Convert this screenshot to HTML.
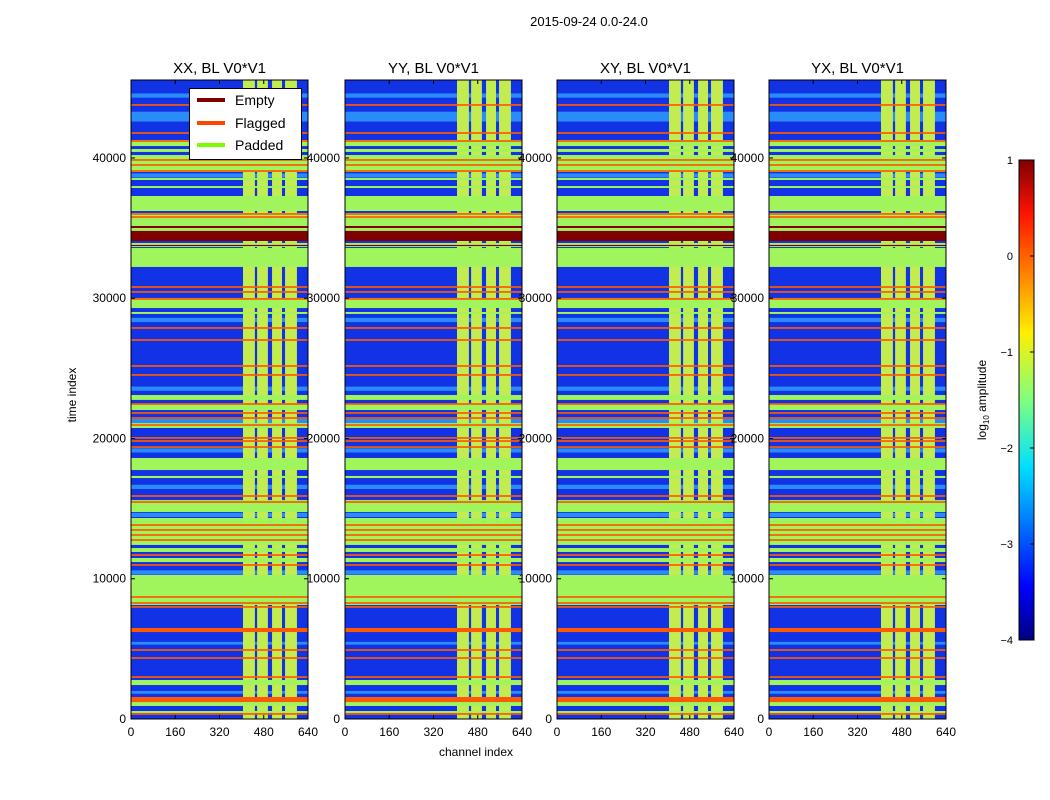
<!DOCTYPE html>
<html><head><meta charset="utf-8"><style>
body{margin:0;background:#fff;}
svg{display:block;font-family:"Liberation Sans",sans-serif;}
</style></head><body>
<svg id="fig" width="1050" height="800">
<defs>
<linearGradient id="jet" x1="0" y1="1" x2="0" y2="0">
<stop offset="0" stop-color="#00007f"/><stop offset="0.11" stop-color="#0000ff"/>
<stop offset="0.36" stop-color="#00dfff"/><stop offset="0.5" stop-color="#7fff7f"/>
<stop offset="0.64" stop-color="#ffef00"/><stop offset="0.89" stop-color="#ff1200"/>
<stop offset="1" stop-color="#7f0000"/></linearGradient>
</defs>
<text x="589" y="26" font-size="13" text-anchor="middle">2015-09-24 0.0-24.0</text>
<g id="panels"></g>
<text x="476" y="756" font-size="12" text-anchor="middle">channel index</text>
<text transform="translate(76,395) rotate(-90)" font-size="12" text-anchor="middle">time index</text>
<g>
<rect x="1019" y="160" width="15" height="480" fill="url(#jet)" stroke="#000" stroke-width="1"/>
<g id="cbticks"></g>
<text transform="translate(986,400) rotate(-90)" font-size="12" text-anchor="middle">log<tspan font-size="8" dy="3">10</tspan><tspan dy="-3"> amplitude</tspan></text>
</g>
<g>
<rect x="189.5" y="88.5" width="112" height="71" fill="#fff" stroke="#000"/>
<line x1="197" y1="100" x2="225" y2="100" stroke="#800000" stroke-width="4"/>
<text x="235" y="105" font-size="14">Empty</text>
<line x1="197" y1="123" x2="225" y2="123" stroke="#ff4500" stroke-width="4"/>
<text x="235" y="128" font-size="14">Flagged</text>
<line x1="197" y1="145" x2="225" y2="145" stroke="#7cfc00" stroke-width="4"/>
<text x="235" y="150" font-size="14">Padded</text>
</g>
</svg>
<script>
const panelTitles=["XX, BL V0*V1","YY, BL V0*V1","XY, BL V0*V1","YX, BL V0*V1"];
const xTicks=[0,160,320,480,640];
const yTicks=[0,10000,20000,30000,40000];
const cbTicks=[1,0,-1,-2,-3,-4];
const columnBands=[[405,448],[456,495],[510,546],[557,600]];
const lightBands=[[44300,44600],[42600,43300],[38600,38900],[28300,28600],[23400,23700],[21100,21400],[19000,19300],[16400,16700],[14400,14700],[10300,10600],[5300,5500],[1800,2000]];
const paddedBands=[[40850,41280],[40430,40640],[40000,40210],[39000,40000],[38430,38570],[37860,38000],[36220,37290],[35580,36080],[34510,35580],[33650,33940],[32230,33580],[29300,30020],[28880,29020],[22750,23100],[22030,22460],[20750,21100],[17750,18610],[17180,17330],[14760,15610],[14050,14330],[12410,14050],[11910,12190],[11190,11480],[8130,10270],[2420,2780],[930,1210],[430,570]];
const emptyBands=[[35010,35150],[34650,34800],[34080,34650],[33720,33800]];
const flaggedBands=[[43720,43840],[41720,41840],[41150,41270],[39800,39920],[39440,39560],[39010,39130],[35950,36070],[35730,35850],[30740,30860],[30390,30510],[29890,30010],[27820,27940],[26960,27080],[25110,25230],[24470,24590],[22400,22520],[21760,21880],[21400,21520],[20900,21020],[19980,20100],[19760,19880],[19330,19450],[15840,15960],[15410,15530],[13770,13890],[13420,13540],[13060,13180],[12700,12820],[11630,11750],[10920,11040],[8640,8760],[8210,8330],[7930,8050],[6200,6490],[4860,4980],[4290,4410],[2930,3050],[1210,1570],[300,420]];
const panelLeft=[131,345,557,769];
const W=177,TOP=80,BOT=719,TMAX=45560;
const NS="http://www.w3.org/2000/svg";
function mk(tag,attrs,parent){const e=document.createElementNS(NS,tag);for(const k in attrs)e.setAttribute(k,attrs[k]);parent.appendChild(e);return e;}
function yS(t){return BOT-(t/TMAX)*(BOT-TOP);}
const root=document.getElementById('panels');
panelLeft.forEach((x0,pi)=>{
  const xS=c=>x0+c/640*W;
  const g=mk('g',{},root);
  
  
  mk('rect',{x:x0,y:TOP,width:W,height:BOT-TOP,fill:'#1232e6'},g);
  lightBands.forEach(b=>{const r=mk('rect',{x:x0,y:yS(b[1]),width:W,height:yS(b[0])-yS(b[1]),fill:'#2a8cf8'},g);
    });
  columnBands.forEach(c=>{const r=mk('rect',{x:xS(c[0]),y:TOP,width:xS(c[1])-xS(c[0]),height:BOT-TOP,fill:'#c2ec50'},g);
    });
  paddedBands.forEach(b=>{const r=mk('rect',{x:x0,y:yS(b[1]),width:W,height:yS(b[0])-yS(b[1]),fill:'#a0f45c'},g);
    });
  emptyBands.forEach(b=>{const r=mk('rect',{x:x0,y:yS(b[1]),width:W,height:yS(b[0])-yS(b[1]),fill:'#800000'},g);
    });
  flaggedBands.forEach(b=>{const r=mk('rect',{x:x0,y:yS(b[1]),width:W,height:Math.max(1.5,yS(b[0])-yS(b[1])),fill:'#ff5a00'},g);
    });
  mk('rect',{x:x0,y:TOP,width:W,height:BOT-TOP,fill:'none',stroke:'#000','stroke-width':1},g);
  const tt=mk('text',{x:x0+W/2,y:73,'font-size':15,'text-anchor':'middle'},g);tt.textContent=panelTitles[pi];
  
  xTicks.forEach(v=>{const x=xS(v);mk('line',{x1:x,y1:BOT,x2:x,y2:BOT-4,stroke:'#000'},g);mk('line',{x1:x,y1:TOP,x2:x,y2:TOP+4,stroke:'#000'},g);
    const t=mk('text',{x:x,y:BOT+17,'font-size':12,'text-anchor':'middle'},g);t.textContent=v;
    });
  yTicks.forEach(v=>{const y=yS(v);mk('line',{x1:x0,y1:y,x2:x0+4,y2:y,stroke:'#000'},g);mk('line',{x1:x0+W,y1:y,x2:x0+W-4,y2:y,stroke:'#000'},g);
    const t=mk('text',{x:x0-5,y:y+4,'font-size':12,'text-anchor':'end'},g);t.textContent=v;
    });
});
const cb=document.getElementById('cbticks');
cbTicks.forEach(v=>{const y=160+(1-v)/5*480;mk('line',{x1:1034,y1:y,x2:1030,y2:y,stroke:'#000'},cb);
  const t=mk('text',{x:1013,y:y+4,'font-size':11,'text-anchor':'end'},cb);t.textContent=(v<0?'\u2212'+(-v):v);
  });
</script>
</body></html>
